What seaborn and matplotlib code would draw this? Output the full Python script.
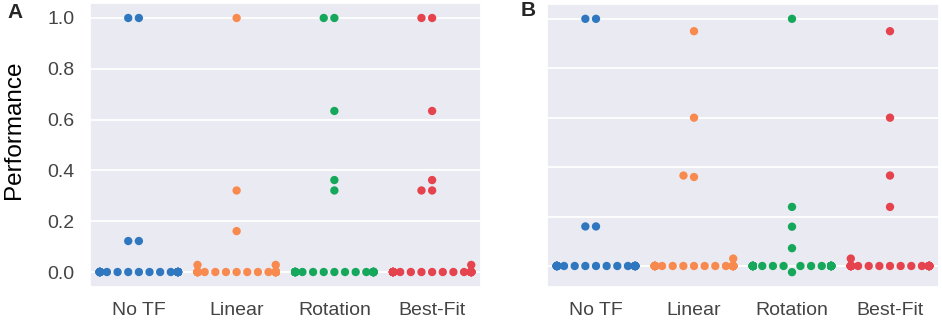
import numpy as np
import pandas as pd
import matplotlib
matplotlib.use("Agg")
import matplotlib.pyplot as plt
import seaborn as sns

# DATA
methods = ["No TF", "Linear", "Rotation", "Best-Fit"]
n_zero = 30

# panel A: non-zero values per method (rest are zeros)
a_no_tf = [1.0, 1.0, 0.122, 0.122]
a_linear = [1.0, 0.321, 0.161, 0.028, 0.028]
a_rotation = [1.0, 1.0, 0.634, 0.362, 0.321]
a_best_fit = [1.0, 1.0, 0.634, 0.362, 0.321, 0.321, 0.028]

# panel B
b_no_tf = [1.0, 1.0, 0.16, 0.16]
b_linear = [0.95, 0.60, 0.366, 0.36, 0.03]
b_rotation = [1.0, 0.239, 0.159, 0.072, -0.025]
b_best_fit = [0.95, 0.60, 0.366, 0.239, 0.03]

colors = ["#2f78c0", "#f98a4f", "#16a85a", "#e5434e"]


def build_frame(groups):
    rows = []
    for name, vals in zip(methods, groups):
        for v in list(vals) + [0.0] * n_zero:
            rows.append({"method": name, "perf": v})
    return pd.DataFrame(rows)


df_a = build_frame([a_no_tf, a_linear, a_rotation, a_best_fit])
df_b = build_frame([b_no_tf, b_linear, b_rotation, b_best_fit])

sns.set_theme(style="darkgrid")
plt.rcParams["font.family"] = ["Liberation Sans", "DejaVu Sans"]

fig = plt.figure(figsize=(9.42, 3.2), dpi=100)
ax_a = fig.add_axes([90 / 942, 33 / 320, 391 / 942, 284 / 320])
ax_b = fig.add_axes([547 / 942, 33 / 320, 392 / 942, 283 / 320])

for ax, df in [(ax_a, df_a), (ax_b, df_b)]:
    # transparent edge widens the swarm spacing a little so dots sit apart
    sns.swarmplot(data=df, x="method", y="perf", hue="method", palette=colors,
                  order=methods, size=6, linewidth=1.3, edgecolor="none",
                  ax=ax, legend=False, warn_thresh=1)
    ax.set_xlabel("")
    ax.set_yticks([0.0, 0.2, 0.4, 0.6, 0.8, 1.0])
    ax.tick_params(axis="both", labelsize=14, labelcolor="#444444", pad=5)
    ax.grid(axis="y", color="white", linewidth=1.3)

ax_a.set_ylim(-0.059, 1.059)
ax_a.set_yticklabels(["0.0", "0.2", "0.4", "0.6", "0.8", "1.0"])
ax_a.set_ylabel("Performance", fontsize=17.5, color="black")
ax_a.yaxis.set_label_coords(-0.166, 0.553)

ax_b.set_ylim(-0.085, 1.06)
ax_b.set_yticklabels([])
ax_b.set_ylabel("")

fig.text(7 / 942, 1 - 12 / 320, "A", fontsize=15, fontweight="bold", va="center")
fig.text(521 / 942, 1 - 10 / 320, "B", fontsize=15, fontweight="bold", va="center")

fig.savefig("out.png", dpi=100)
